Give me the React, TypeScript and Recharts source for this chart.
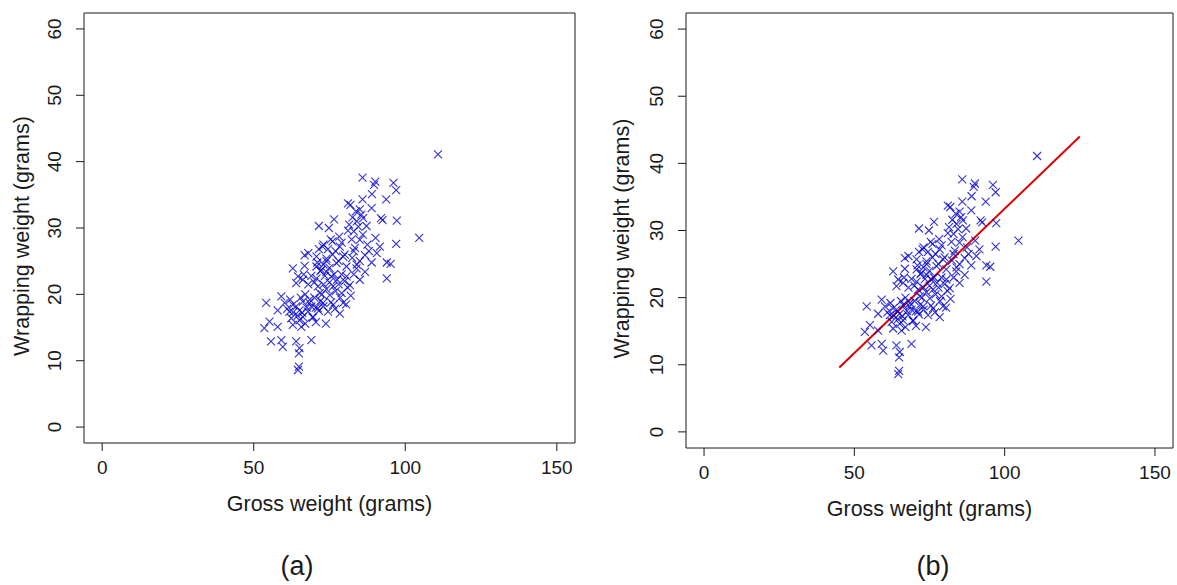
import React from 'react';
import { ScatterChart, Scatter, XAxis, YAxis, ReferenceArea, ReferenceLine, Label } from 'recharts';

// Gross weight (grams) of each sample
const grossWeight = [
  110.8, 85.9, 90.1, 89.7, 96.1, 97, 89, 93.7, 85.9, 81.1,
  81.9, 85, 88.9, 83.7, 82.6, 86.1, 92, 92.5, 97.2, 76.5,
  71.5, 74.8, 87.2, 81.1, 104.6, 90.2, 97, 91.6, 75.4, 78.2,
  82.3, 85, 72.7, 78.4, 83.4, 66.8, 86.7, 90.6, 70.7, 74,
  79.5, 93.9, 95.2, 88.9, 62.9, 66.8, 93.9, 86.7, 83.9, 70.7,
  72.3, 74, 77.3, 80.6, 64.6, 66.2, 70.7, 75.6, 80.6, 85,
  64, 71.2, 76.2, 81.7, 71.8, 75.1, 79, 59.1, 54.1, 60.2,
  62.9, 66.2, 68.4, 72.9, 76.2, 79.5, 57.9, 61.8, 65.1, 67.9,
  71.2, 74.5, 78.4, 55.2, 62.4, 65.1, 66.2, 69.5, 53.5, 57.9,
  62.9, 65.7, 73.8, 55.7, 59.1, 59.6, 64, 69, 65.1, 64.9,
  64.9, 64.6,
  73, 74, 72, 75, 73.5, 71, 76, 77, 78, 74.5,
  76.5, 79, 80, 78, 77, 74, 72.5, 70, 69, 67.5,
  68.5, 70.5, 71.5, 72, 73, 75.5, 76.8, 78.5, 80.5, 82,
  81, 83, 84, 82.5, 80, 79, 76, 81.5, 83, 84.5,
  86, 85.5, 84, 87.5, 88, 83, 85, 68, 67, 65.5,
  64, 63, 66, 69.5, 70.5, 67, 64.5, 61, 62, 69,
  70, 66.5, 68, 71.5, 73, 77.5, 75, 73,
];

// Wrapping weight (grams) of each sample
const wrappingWeight = [
  41.1, 37.6, 37.0, 36.5, 36.8, 35.7, 35.1, 34.3, 34.3, 33.7,
  33.5, 32.8, 33.0, 32.5, 31.6, 31.5, 31.5, 31.2, 31.1, 31.3,
  30.3, 30.0, 30.3, 29.6, 28.5, 28.5, 27.6, 27.2, 28.3, 28.7,
  28.3, 28.2, 27.2, 27.2, 27.0, 25.9, 25.9, 26.2, 25.7, 25.4,
  25.7, 24.8, 24.6, 24.8, 23.9, 24.3, 22.4, 23.4, 23.9, 24.2,
  23.7, 23.4, 24.7, 24.2, 22.7, 22.2, 22.4, 22.7, 22.7, 22.2,
  21.7, 21.2, 21.2, 21.4, 20.2, 19.9, 20.2, 19.7, 18.7, 18.7,
  18.4, 18.9, 18.7, 18.7, 18.4, 18.7, 17.6, 17.4, 17.6, 17.4,
  17.9, 17.4, 17.1, 15.9, 16.4, 16.1, 16.6, 16.6, 14.9, 15.1,
  15.4, 15.1, 15.6, 12.9, 13.1, 12.1, 12.9, 13.1, 11.9, 11.1,
  9.1, 8.6,
  24.5, 25, 23.5, 24, 22.8, 24.8, 26, 26.5, 25, 26.8,
  23, 23, 22, 21.5, 20.5, 20.8, 20, 19.5, 18.2, 18,
  19.2, 18, 17.5, 19, 18.2, 18.8, 17.8, 19.5, 18.5, 19.8,
  21, 23, 24.5, 25.5, 26, 27.8, 28, 30.5, 29.5, 30.2,
  29, 32, 31, 27.5, 26.5, 26.5, 25, 21.5, 20, 19.5,
  18.2, 17.3, 17.2, 16.5, 15.8, 15.6, 16.8, 17.8, 19.2, 22.8,
  21.8, 23, 26.2, 26.8, 27.5, 22.2, 21.8, 21.5,
];

const xTicks = [0, 50, 100, 150];
const yTicks = [0, 10, 20, 30, 40, 50, 60];
const xDomain = [-6, 156];
const yDomain = [-2.4, 62.4];

// Fitted line end points (panel b)
const fitX = [45, 125];
const fitY = [9.6, 44.0];

const panelLabels = ['(a)', '(b)'];
const xTitle = 'Gross weight (grams)';
const yTitle = 'Wrapping weight (grams)';

const points = grossWeight.map((x, i) => ({ x, y: wrappingWeight[i] }));

const FONT = 'Arial, "Liberation Sans", sans-serif';
const INK = '#1a1a1a';

const XMark = (props: any) => {
  const { cx, cy } = props;
  if (cx == null || cy == null) return null;
  const s = 4;
  return (
    <path
      d={`M${cx - s},${cy - s}L${cx + s},${cy + s}M${cx - s},${cy + s}L${cx + s},${cy - s}`}
      stroke="#0000cc"
      strokeOpacity={0.8}
      strokeWidth={1.1}
      fill="none"
    />
  );
};

const XTick = (props: any) => {
  const { x, y, payload } = props;
  return (
    <text x={x} y={y + 21} textAnchor="middle" fontSize={19} fontFamily={FONT} fill={INK}>
      {payload.value}
    </text>
  );
};

const YTick = (props: any) => {
  const { x, y, payload } = props;
  const bx = x - 13;
  return (
    <text x={bx} y={y} transform={`rotate(-90 ${bx} ${y})`} textAnchor="middle" fontSize={19} fontFamily={FONT} fill={INK}>
      {payload.value}
    </text>
  );
};

const XTitle = (props: any) => {
  const vb = props.viewBox || {};
  const cx = vb.x + vb.width / 2;
  const by = vb.y + 68;
  return (
    <text x={cx} y={by} textAnchor="middle" fontSize={21.5} fontFamily={FONT} fill={INK}>
      {xTitle}
    </text>
  );
};

const YTitle = (props: any) => {
  const vb = props.viewBox || {};
  const bx = 29;
  const cy = vb.y + vb.height / 2 + 8;
  return (
    <text x={bx} y={cy} transform={`rotate(-90 ${bx} ${cy})`} textAnchor="middle" fontSize={21.5} fontFamily={FONT} fill={INK}>
      {yTitle}
    </text>
  );
};

type PanelProps = {
  left: number;
  width: number;
  marginRight: number;
  yAxisWidth: number;
  marginBottom: number;
  showFit: boolean;
};

const Panel = ({ left, width, marginRight, yAxisWidth, marginBottom, showFit }: PanelProps) => (
  <div style={{ position: 'absolute', left, top: 0 }}>
    <ScatterChart width={width} height={540} margin={{ top: 13, right: marginRight, bottom: marginBottom, left: 0 }}>
      <XAxis
        type="number"
        dataKey="x"
        domain={xDomain}
        ticks={xTicks}
        interval={0}
        allowDataOverflow
        axisLine={false}
        tickLine={{ stroke: INK }}
        tickSize={8}
        tickMargin={2}
        height={60}
        tick={XTick}
      >
        <Label content={XTitle} />
      </XAxis>
      <YAxis
        type="number"
        dataKey="y"
        domain={yDomain}
        ticks={yTicks}
        interval={0}
        allowDataOverflow
        axisLine={false}
        tickLine={{ stroke: INK }}
        tickSize={8}
        tickMargin={2}
        width={yAxisWidth}
        tick={YTick}
      >
        <Label content={YTitle} />
      </YAxis>
      <ReferenceArea
        x1={xDomain[0]}
        x2={xDomain[1]}
        y1={yDomain[0]}
        y2={yDomain[1]}
        fill="none"
        fillOpacity={0}
        stroke={INK}
        strokeWidth={1}
        ifOverflow="visible"
      />
      <Scatter data={points} shape={XMark} isAnimationActive={false} />
      {showFit && (
        <ReferenceLine
          segment={[
            { x: fitX[0], y: fitY[0] },
            { x: fitX[1], y: fitY[1] },
          ]}
          stroke="#e00000"
          strokeWidth={2}
          ifOverflow="visible"
        />
      )}
    </ScatterChart>
  </div>
);

export default function App() {
  return (
    <div style={{ position: 'absolute', left: 0, top: 0, width: 1177, height: 585, background: '#fff', overflow: 'hidden' }}>
      <Panel left={0} width={590} marginRight={15} yAxisWidth={84} marginBottom={37} showFit={false} />
      <Panel left={600} width={577} marginRight={4} yAxisWidth={86} marginBottom={32} showFit={true} />
      <svg width={1177} height={585} style={{ position: 'absolute', left: 0, top: 0, pointerEvents: 'none' }}>
        <text x={297} y={575} textAnchor="middle" fontSize={27} fontFamily={FONT} fill={INK}>
          {panelLabels[0]}
        </text>
        <text x={933} y={575} textAnchor="middle" fontSize={27} fontFamily={FONT} fill={INK}>
          {panelLabels[1]}
        </text>
      </svg>
    </div>
  );
}
